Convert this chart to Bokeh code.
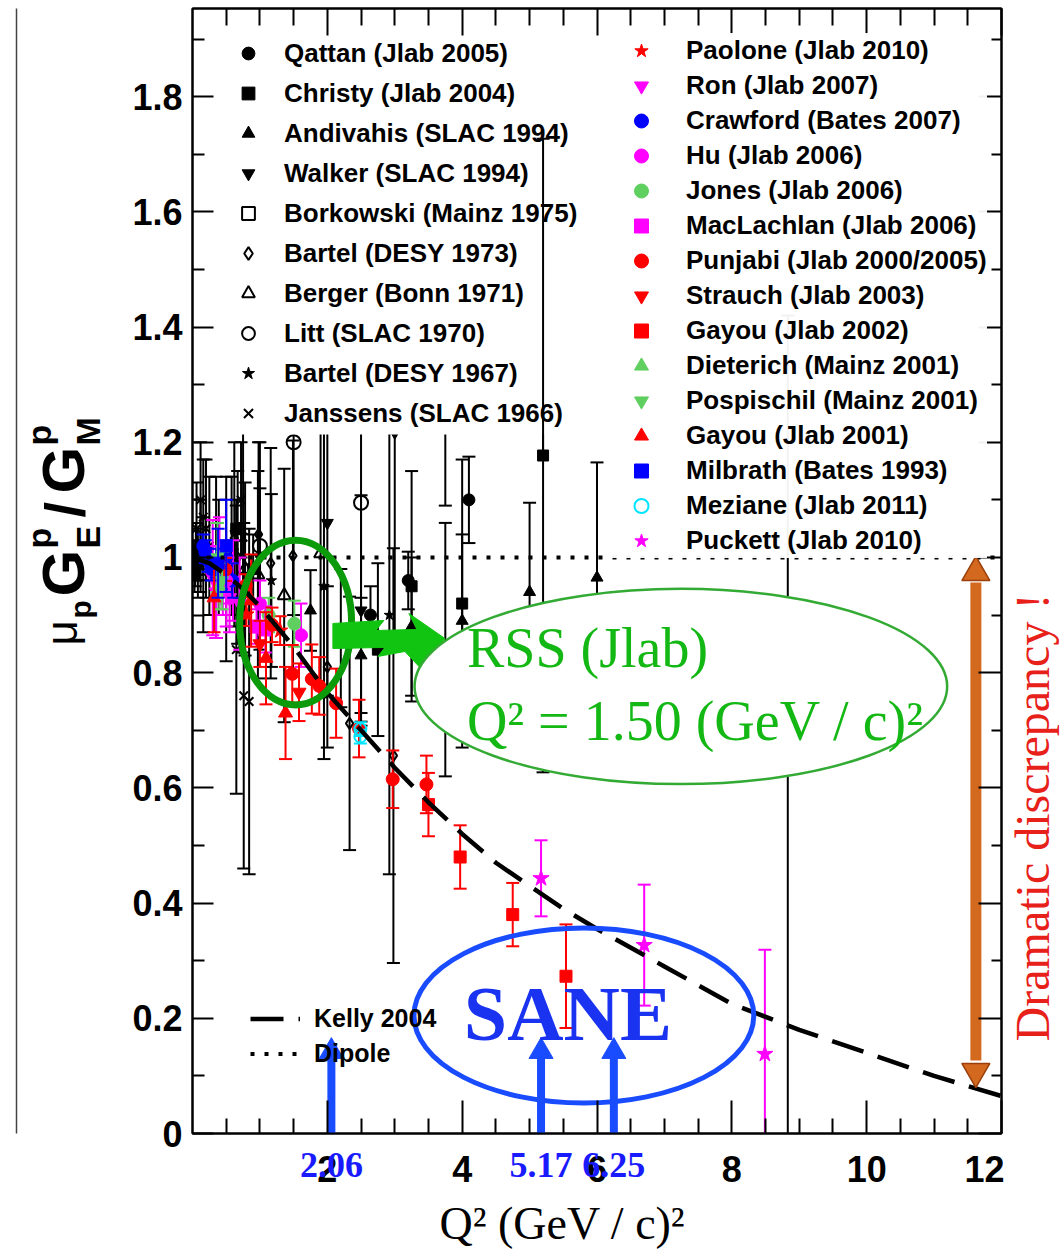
import math
from bokeh.plotting import figure
from bokeh.layouts import row
from bokeh.models import (Range1d, FixedTicker, LinearAxis, Legend, LegendItem,
                          CustomJSTickFormatter, CustomLabelingPolicy, ColumnDataSource)
from bokeh.core.properties import value
from bokeh.embed import file_html
from bokeh.resources import INLINE

# ---------------- data : Q^2 (GeV/c)^2, mu_p GE/GM, error ----------------
qattan_q2 = [2.64, 3.20, 4.10]
qattan_r = [0.90, 0.96, 1.10]
qattan_e = [0.05, 0.05, 0.075]

christy_q2 = [0.04, 0.07, 0.65, 0.90, 2.20, 2.75, 3.25, 3.75, 4.00, 5.20]
christy_r = [0.97, 0.99, 1.05, 0.98, 0.86, 0.84, 0.95, 0.84, 0.92, 1.177]
christy_e = [0.02, 0.03, 0.05, 0.06, 0.12, 0.15, 0.20, 0.22, 0.25, 0.55]

andivahis_q2 = [1.75, 2.50, 3.25, 4.00, 5.00, 6.00, 8.83]
andivahis_r = [0.908, 0.83, 0.88, 0.89, 0.94, 0.965, 0.70]
andivahis_e = [0.07, 0.10, 0.12, 0.15, 0.155, 0.20, 0.72]

walker_q2 = [1.00, 2.00, 2.50, 3.00]
walker_r = [1.00, 1.06, 0.908, 1.217]
walker_e = [0.12, 0.30, 0.20, 0.35]

borkowski_q2 = [0.01, 0.03, 0.05, 0.08, 0.12, 0.16]
borkowski_r = [1.00, 0.98, 1.01, 0.99, 1.02, 0.97]
borkowski_e = [0.03, 0.04, 0.05, 0.06, 0.08, 0.10]

bartel73_q2 = [0.67, 0.98, 1.16, 1.49, 2.00, 2.33, 2.98]
bartel73_r = [1.00, 1.04, 0.99, 1.003, 0.81, 0.712, 0.656]
bartel73_e = [0.15, 0.16, 0.20, 0.20, 0.14, 0.22, 0.36]

berger_q2 = [0.39, 0.58, 0.78, 0.97, 1.36, 1.90]
berger_r = [1.00, 1.02, 0.98, 0.97, 0.934, 1.007]
berger_e = [0.10, 0.12, 0.15, 0.18, 0.22, 0.25]

litt_q2 = [1.00, 1.50, 2.50, 3.75]
litt_r = [1.02, 1.20, 1.095, 1.35]
litt_e = [0.18, 0.30, 0.38, 0.26]

bartel67_q2 = [1.17, 1.95, 2.92]
bartel67_r = [0.96, 0.95, 0.90]
bartel67_e = [0.15, 0.30, 0.45]

janssens_q2 = [0.06, 0.12, 0.16, 0.20, 0.25, 0.35, 0.50, 0.62, 0.65, 0.72, 0.75, 0.76, 0.84]
janssens_r = [1.05, 1.10, 1.07, 1.05, 1.02, 1.00, 0.98, 1.04, 0.84, 1.10, 1.035, 0.76, 0.75]
janssens_e = [0.08, 0.10, 0.10, 0.12, 0.12, 0.14, 0.16, 0.16, 0.25, 0.10, 0.20, 0.30, 0.30]

paolone_q2 = [0.80, 1.30]
paolone_r = [0.901, 0.873]
paolone_e = [0.02, 0.025]

ron_q2 = [0.30, 0.35, 0.40, 0.45, 0.50, 0.55, 0.60, 0.70]
ron_r = [0.965, 0.94, 0.99, 0.96, 0.95, 0.93, 0.96, 0.92]
ron_e = [0.10, 0.08, 0.08, 0.06, 0.07, 0.06, 0.07, 0.08]

crawford_q2 = [0.16, 0.19, 0.23, 0.28, 0.35, 0.43, 0.50, 0.59]
crawford_r = [1.02, 1.01, 0.995, 0.98, 0.99, 0.97, 1.00, 0.96]
crawford_e = [0.02, 0.02, 0.02, 0.02, 0.025, 0.025, 0.03, 0.03]

hu_q2 = [0.50, 1.00, 1.61]
hu_r = [0.96, 0.92, 0.865]
hu_e = [0.04, 0.04, 0.055]

jones_q2 = [1.13, 1.51]
jones_r = [0.90, 0.885]
jones_e = [0.03, 0.04]

maclachlan_q2 = [0.95, 1.08]
maclachlan_r = [0.88, 0.875]
maclachlan_e = [0.03, 0.04]

punjabi_q2 = [0.49, 0.79, 1.18, 1.48, 1.77, 1.88, 2.13, 2.47, 2.97, 3.47]
punjabi_r = [0.979, 0.951, 0.883, 0.798, 0.789, 0.777, 0.747, 0.703, 0.615, 0.606]
punjabi_e = [0.02, 0.02, 0.03, 0.05, 0.06, 0.05, 0.06, 0.05, 0.05, 0.05]

strauch_q2 = [1.00, 1.58]
strauch_r = [0.85, 0.766]
strauch_e = [0.04, 0.05]

gayou02_q2 = [3.50, 3.97, 4.75, 5.54]
gayou02_r = [0.571, 0.48, 0.38, 0.273]
gayou02_e = [0.055, 0.055, 0.055, 0.09]

dieterich_q2 = [0.40]
dieterich_r = [0.95]
dieterich_e = [0.04]

pospischil_q2 = [0.37, 0.44]
pospischil_r = [1.00, 0.96]
pospischil_e = [0.06, 0.05]

gayou01_q2 = [0.32, 0.87, 1.09, 1.38]
gayou01_r = [0.93, 0.925, 0.825, 0.73]
gayou01_e = [0.06, 0.08, 0.08, 0.08]

milbrath_q2 = [0.38, 0.50]
milbrath_r = [0.99, 1.02]
milbrath_e = [0.06, 0.08]

meziane_q2 = [2.49, 2.49]
meziane_r = [0.702, 0.689]
meziane_e = [0.012, 0.012]

puckett_q2 = [5.17, 6.70, 8.49]
puckett_r = [0.443, 0.327, 0.138]
puckett_e = [0.066, 0.105, 0.181]

kelly_q2 = [0.0, 0.25, 0.5, 0.75, 1.0, 1.25, 1.5, 1.75, 2.0, 2.5, 3.0, 3.5, 4.0, 4.5,
            5.0, 5.5, 6.0, 7.0, 8.0, 9.0, 10.0, 11.0, 12.0]
kelly_r = [1.0, 0.99, 0.97, 0.945, 0.915, 0.88, 0.845, 0.805, 0.765, 0.70, 0.635, 0.575,
           0.52, 0.47, 0.43, 0.39, 0.355, 0.29, 0.225, 0.18, 0.14, 0.10, 0.065]

dipole_q2 = [0.0, 12.0]
dipole_r = [1.0, 1.0]

sane_q2 = [2.06, 5.17, 6.25]
rss_q2 = 1.50

x_major = [2, 4, 6, 8, 10, 12]
x_minor = [0.5 * i for i in range(1, 24) if i % 4 != 0]
y_major = [0.0, 0.2, 0.4, 0.6, 0.8, 1.0, 1.2, 1.4, 1.6, 1.8]
y_minor = [0.1, 0.3, 0.5, 0.7, 0.9, 1.1, 1.3, 1.5, 1.7, 1.9]

# ---------------- helpers for annotation placement (page pixels) ----------------
X0, SX, Y0, SY = 191.6, 67.42, 1133.0, 576.0
def dx(px): return (px - X0) / SX
def dy(py): return (Y0 - py) / SY
def mid(base, fs): return base - 0.35 * fs      # baseline -> em-box middle

LEFT_W, MAIN_LB, MAIN_RB, RIGHT_W = 128, 64, 3, 56
FTOP, FH, FBOT = 8, 1125, 117
H = 1250

# ---------------- main figure ----------------
p = figure(frame_width=809, frame_height=FH, x_range=Range1d(0, 12), y_range=Range1d(0, 1.953),
           output_backend="svg", toolbar_location=None,
           min_border_left=MAIN_LB, min_border_right=MAIN_RB, min_border_top=FTOP,
           min_border_bottom=FBOT, background_fill_color="white", border_fill_color="white")
p.grid.visible = False
p.outline_line_color = "black"
p.outline_line_width = 2

def style_axis(ax, major_in, minor_in):
    ax.major_tick_in = major_in
    ax.major_tick_out = 0
    ax.minor_tick_in = minor_in
    ax.minor_tick_out = 0
    ax.axis_line_width = 2
    ax.major_tick_line_width = 2
    ax.minor_tick_line_width = 2
    ax.axis_line_color = "black"
    ax.major_tick_line_color = "black"
    ax.minor_tick_line_color = "black"
    ax.major_label_text_font = "Liberation Sans"
    ax.major_label_text_font_style = "bold"
    ax.major_label_text_font_size = "36px"
    ax.major_label_text_color = "black"

no_labels = "for (const i of Array.from(indices)) { indices.unset(i) } return indices"

xb = p.xaxis[0]
xb.ticker = FixedTicker(ticks=x_major, minor_ticks=x_minor)
style_axis(xb, 33, 15)
xb.major_label_standoff = 22

yl = p.yaxis[0]
yl.ticker = FixedTicker(ticks=y_major, minor_ticks=y_minor)
yl.formatter = CustomJSTickFormatter(code="return (Math.round(tick*10)/10).toString();")
style_axis(yl, 21, 12)
yl.major_label_standoff = 10

for side, ticks, minors, mj, mn in (("above", x_major, x_minor, 27, 17),
                                    ("right", y_major, y_minor, 23, 10)):
    ax = LinearAxis(ticker=FixedTicker(ticks=ticks, minor_ticks=minors))
    style_axis(ax, mj, mn)
    ax.major_label_policy = CustomLabelingPolicy(code=no_labels)
    ax.major_label_text_font_size = "0px"
    ax.major_label_standoff = 0
    p.add_layout(ax, side)

# outer bottom axis: SANE kinematic points in blue + the axis title
xs = LinearAxis(ticker=FixedTicker(ticks=sane_q2),
                formatter=CustomJSTickFormatter(code="return tick.toFixed(2);"),
                axis_line_color=None, major_tick_line_color=None, minor_tick_line_color=None,
                major_tick_in=0, major_tick_out=0, minor_tick_in=0, minor_tick_out=0,
                major_label_text_font="Liberation Serif", major_label_text_font_style="bold",
                major_label_text_font_size="36px", major_label_text_color="#1a1aff",
                major_label_standoff=-32,
                axis_label="Q² (GeV / c)²" + "\u00a0" * 6, axis_label_standoff=18,
                axis_label_text_font="Liberation Serif", axis_label_text_font_style="normal",
                axis_label_text_font_size="46px", axis_label_text_color="black")
p.add_layout(xs, "below")

# ---------------- data sets ----------------
def add_set(q, r, e, marker, color, size, fill=True, lw=2, cap=13):
    src = ColumnDataSource(dict(x=q, y=r, lo=[a - b for a, b in zip(r, e)],
                                hi=[a + b for a, b in zip(r, e)]))
    p.segment(x0="x", y0="lo", x1="x", y1="hi", source=src, line_color=color, line_width=lw)
    p.scatter(x="x", y="lo", marker="dash", size=cap, line_color=color, line_width=lw, source=src)
    p.scatter(x="x", y="hi", marker="dash", size=cap, line_color=color, line_width=lw, source=src)
    return p.scatter(x="x", y="y", marker=marker, size=size,
                     fill_color=(color if fill else None), line_color=color,
                     line_width=(1 if fill else 2), source=src)

K = "black"
left_sets = [
    ("Qattan (Jlab 2005)", add_set(qattan_q2, qattan_r, qattan_e, "circle", K, 12)),
    ("Christy (Jlab 2004)", add_set(christy_q2, christy_r, christy_e, "square", K, 11)),
    ("Andivahis (SLAC 1994)", add_set(andivahis_q2, andivahis_r, andivahis_e, "triangle", K, 12)),
    ("Walker (SLAC 1994)", add_set(walker_q2, walker_r, walker_e, "inverted_triangle", K, 12)),
    ("Borkowski (Mainz 1975)", add_set(borkowski_q2, borkowski_r, borkowski_e, "square", K, 11, fill=False)),
    ("Bartel (DESY 1973)", add_set(bartel73_q2, bartel73_r, bartel73_e, "diamond", K, 11, fill=False)),
    ("Berger (Bonn 1971)", add_set(berger_q2, berger_r, berger_e, "triangle", K, 13, fill=False)),
    ("Litt (SLAC 1970)", add_set(litt_q2, litt_r, litt_e, "circle", K, 14, fill=False)),
    ("Bartel (DESY 1967)", add_set(bartel67_q2, bartel67_r, bartel67_e, "star", K, 11)),
    ("Janssens (SLAC 1966)", add_set(janssens_q2, janssens_r, janssens_e, "x", K, 12, fill=False)),
]

RED, MAG, BLU, GRN, CYA = "#ff0000", "#ff00ff", "#0000ff", "#5fcf5f", "#00e5ff"
right_sets = [
    ("Paolone (Jlab 2010)", add_set(paolone_q2, paolone_r, paolone_e, "star", RED, 16)),
    ("Ron (Jlab 2007)", add_set(ron_q2, ron_r, ron_e, "inverted_triangle", MAG, 14)),
    ("Crawford (Bates 2007)", add_set(crawford_q2, crawford_r, crawford_e, "circle", BLU, 13)),
    ("Hu (Jlab 2006)", add_set(hu_q2, hu_r, hu_e, "circle", MAG, 13)),
    ("Jones (Jlab 2006)", add_set(jones_q2, jones_r, jones_e, "circle", GRN, 13)),
    ("MacLachlan (Jlab 2006)", add_set(maclachlan_q2, maclachlan_r, maclachlan_e, "square", MAG, 13)),
    ("Punjabi (Jlab 2000/2005)", add_set(punjabi_q2, punjabi_r, punjabi_e, "circle", RED, 13)),
    ("Strauch (Jlab 2003)", add_set(strauch_q2, strauch_r, strauch_e, "inverted_triangle", RED, 14)),
    ("Gayou (Jlab 2002)", add_set(gayou02_q2, gayou02_r, gayou02_e, "square", RED, 12)),
    ("Dieterich (Mainz 2001)", add_set(dieterich_q2, dieterich_r, dieterich_e, "triangle", GRN, 13)),
    ("Pospischil (Mainz 2001)", add_set(pospischil_q2, pospischil_r, pospischil_e, "inverted_triangle", GRN, 13)),
    ("Gayou (Jlab 2001)", add_set(gayou01_q2, gayou01_r, gayou01_e, "triangle", RED, 14)),
    ("Milbrath (Bates 1993)", add_set(milbrath_q2, milbrath_r, milbrath_e, "square", BLU, 12)),
    ("Meziane (Jlab 2011)", add_set(meziane_q2, meziane_r, meziane_e, "circle", CYA, 12, fill=False)),
    ("Puckett (Jlab 2010)", add_set(puckett_q2, puckett_r, puckett_e, "star", MAG, 17)),
]

kelly = p.line(kelly_q2, kelly_r, line_color="black", line_width=4.5, line_dash="33 15")
dipole = p.line(dipole_q2, dipole_r, line_color="black", line_width=4, line_dash="4 10")

# white box behind the left legend, then the one Christy bar that was drawn over it
p.quad(left=[dx(228)], right=[dx(582)], top=[dy(30)], bottom=[dy(434)], fill_color="white",
       line_color=None)
top_idx = [i for i in range(len(christy_q2)) if christy_r[i] + christy_e[i] > 1.25]
ctop = ColumnDataSource(dict(x=[christy_q2[i] for i in top_idx],
                             y=[christy_r[i] for i in top_idx],
                             hi=[christy_r[i] + christy_e[i] for i in top_idx]))
p.segment(x0="x", y0="y", x1="x", y1="hi", source=ctop, line_color="black", line_width=2)
p.scatter(x="x", y="hi", marker="dash", size=13, line_color="black", line_width=2, source=ctop)

# ---------------- annotations inside the frame ----------------
GREEN_T = "#14b814"
p.ellipse(x=[rss_q2 + 0.03], y=[0.887], width=[1.66], height=[0.286], fill_color=None,
          line_color="#0a9a0a", line_width=7)
wedge_px = [(332, 623), (383, 620), (375, 630), (416, 629), (408, 613), (444, 638),
            (420, 668), (404, 651), (377, 656), (384, 647), (332, 648)]
p.patch([dx(a) for a, b in wedge_px], [dy(b) for a, b in wedge_px], fill_color="#11c411",
        line_color="#11c411", line_width=1)
p.ellipse(x=[dx(680)], y=[dy(686)], width=[7.90], height=[0.339], fill_color="white",
          line_color="#33aa33", line_width=2.5)

BLUE_A = "#1a4cff"
p.ellipse(x=[dx(583)], y=[dy(1015)], width=[5.04], height=[0.304], fill_color=None,
          line_color=BLUE_A, line_width=5)
arr = ColumnDataSource(dict(x=sane_q2, y0=[0.0] * len(sane_q2), y1=[dy(1054)] * len(sane_q2),
                            yh=[dy(1051)] * len(sane_q2)))
p.segment(x0="x", y0="y0", x1="x", y1="y1", source=arr, line_color=BLUE_A, line_width=8)
p.scatter(x="x", y="yh", source=arr, marker="triangle", size=24, fill_color=BLUE_A,
          line_color=BLUE_A)

ORG = "#d2691e"
xo = dx(975)
p.segment(x0=[xo], y0=[dy(1060)], x1=[xo], y1=[dy(582)], line_color=ORG, line_width=11)
p.scatter(x=[xo], y=[dy(572)], marker="triangle", size=28, fill_color=ORG,
          line_color="#9a3f0c", line_width=1.5)
p.scatter(x=[xo], y=[dy(1071)], marker="inverted_triangle", size=28, fill_color=ORG,
          line_color="#9a3f0c", line_width=1.5)

def ptext(fig, x, y, text, fs, color="black", font="Liberation Serif", style="normal",
          align="left", angle=0.0):
    fig.text(x=[x], y=[y], text=[text], text_font=value(font), text_font_style=style,
             text_font_size="%dpx" % fs, text_color=color, text_align=align,
             text_baseline="middle", angle=angle)

ptext(p, dx(466), dy(mid(667, 56)), "RSS (Jlab)", 56, GREEN_T)
ptext(p, dx(466), dy(mid(740, 56)), "Q² = %.2f (GeV / c)²" % rss_q2, 56, GREEN_T)
ptext(p, dx(567), dy(mid(1040, 78)), "SANE", 78, "#1a33f0", style="bold", align="center")

# ---------------- legends ----------------
def make_legend(sets, loc, gw, h, standoff, fsize, bg=True):
    lg = Legend(items=[LegendItem(label=l, renderers=[r]) for l, r in sets],
                location=loc, orientation="vertical", glyph_width=gw, glyph_height=h,
                label_height=h, label_standoff=standoff, spacing=0, padding=0, margin=0,
                label_text_font="Liberation Sans", label_text_font_style="bold",
                label_text_font_size=fsize, label_text_color="black",
                background_fill_color=("white" if bg else None),
                border_line_color=None)
    p.add_layout(lg)
    return lg

make_legend(left_sets, (40, 700), 32, 40, 20, "26px", bg=False)
make_legend(right_sets, (415, 575), 68, 35, 11, "26px")
make_legend([("Kelly 2004", kelly), ("Dipole", dipole)], (58, 62), 50, 35, 14, "25px", bg=False)

# ---------------- side strips (frames aligned with the main frame) ----------------
def side_fig(w):
    f = figure(frame_width=w, frame_height=FH, x_range=Range1d(0, w),
               y_range=Range1d(H - (FTOP + FH), H - FTOP),
               output_backend="svg", toolbar_location=None, x_axis_location=None,
               y_axis_location=None, min_border_left=0, min_border_right=0,
               min_border_top=FTOP, min_border_bottom=FBOT, outline_line_color=None,
               background_fill_color="white", border_fill_color="white")
    f.grid.visible = False
    return f

lf = side_fig(LEFT_W)
ylab = [("μ", 76, 645, 44, "normal"), ("p", 90, 618, 30, "bold"),
        ("G", 84, 596, 60, "bold"), ("p", 50, 548, 34, "bold"), ("E", 99, 548, 34, "bold"),
        ("/", 84, 517, 56, "bold"),
        ("G", 84, 493, 60, "bold"), ("p", 50, 445, 34, "bold"), ("M", 99, 445, 34, "bold")]
for t, bx, by, fs, st in ylab:
    ptext(lf, mid(bx, fs), H - by, t, fs, font="Liberation Sans", style=st, angle=math.pi / 2)
# slide border
lf.line(x=[16, 16], y=[H, 0], line_color="#444444", line_width=1.5)

rf = side_fig(RIGHT_W)
ptext(rf, 1032 - (LEFT_W + MAIN_LB + 809 + MAIN_RB), H - 817, "Dramatic discrepancy !", 48,
      "#e8201a", align="center", angle=math.pi / 2)

layout = row(lf, p, rf, spacing=0)
open("out.html", "w").write(file_html(layout, INLINE))
